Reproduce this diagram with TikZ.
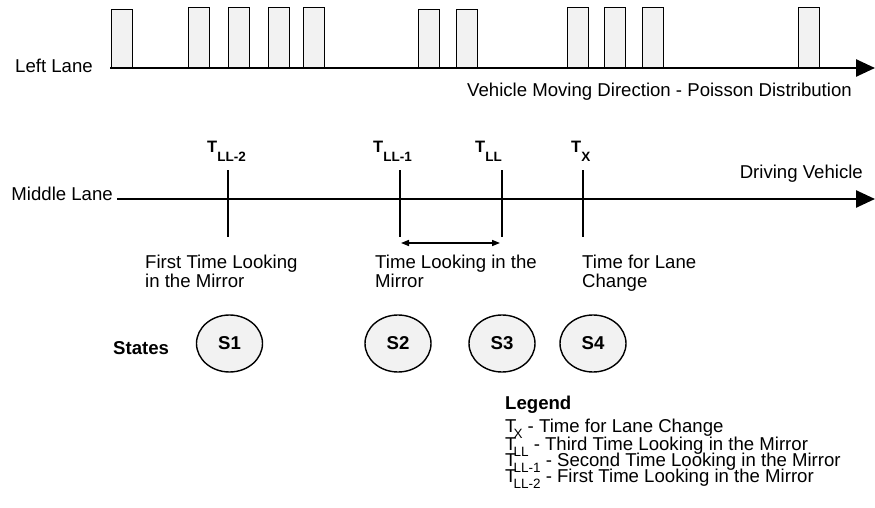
\documentclass[tikz,border=0pt]{standalone}
\usepackage{fontspec}
\setmainfont{Liberation Sans}
\usetikzlibrary{arrows.meta,shapes.geometric}
\newcommand{\tbig}[1]{{\fontsize{16.5}{16.5}\selectfont\bfseries T}\raisebox{-9pt}{\fontsize{13.5}{13.5}\selectfont\bfseries #1}}
\newcommand{\tleg}[1]{T\kern-3pt\raisebox{-6pt}{\fontsize{13.5}{13.5}\selectfont #1}}
\tikzset{
  lane/.style={
    line width=2.5pt,
    -{Triangle[length=19pt,width=17pt]},
  },
  car box/.style={
    fill=black!5,
    draw,
    line width=1.4pt,
    minimum width=21pt,
    inner sep=0pt,
    anchor=south west,
  },
  tick mark/.style={line width=2pt},
  gap arrow/.style={
    line width=1.5pt,
    {Triangle[length=8pt,width=6pt]}-{Triangle[length=8pt,width=6pt]},
  },
  state node/.style={
    ellipse,
    fill=black!5,
    draw,
    line width=1.4pt,
    minimum width=66pt,
    minimum height=57pt,
    inner sep=0pt,
    font=\fontsize{18.6}{18.6}\selectfont\bfseries,
  },
  lane text/.style={
    inner sep=0pt,
    font=\fontsize{18.6}{19}\selectfont,
  },
}

\begin{document}
\begin{tikzpicture}[x=1pt,y=-1pt]
        \useasboundingbox (0,0) rectangle (875,508);

        \foreach \x/\h [count=\i] in {111/58,188/60,228/60,268/60,303/60,418/58,456/58,567/60,604/60,642/60,798/60}
            \node [car box, minimum height=\h pt] (car\i) at (\x,68) {};

        \coordinate (left start) at (110,68);
        \coordinate (left end) at (875,68);
        \draw [lane] (left start) -- (left end);
        \node [lane text, anchor=base east] (left lane) at (93,73) {Left Lane};
        \node [lane text, anchor=base west] (direction) at (467,97) {Vehicle Moving Direction - Poisson Distribution};

        \coordinate (mid start) at (117,199);
        \coordinate (mid end) at (875,199);
        \draw [lane] (mid start) -- (mid end);
        \node [lane text, anchor=base east] (middle lane) at (113,200) {Middle Lane};
        \node [lane text, anchor=base east] (driving) at (863,178) {Driving Vehicle};

        \foreach \n/\x in {tll2/228,tll1/400,tll/502,tx/583} {
            \coordinate (\n top) at (\x,170);
            \coordinate (\n bot) at (\x,237);
            \draw [tick mark] (\n top) -- (\n bot);
        }
        \node [lane text, anchor=base west] (tll2 lab) at (207,153) {\tbig{LL-2}};
        \node [lane text, anchor=base west] (tll1 lab) at (373,153) {\tbig{LL-1}};
        \node [lane text, anchor=base west] (tll lab) at (475,153) {\tbig{LL}};
        \node [lane text, anchor=base west] (tx lab) at (571,153) {\tbig{X}};

        \coordinate (gap left) at (401,243);
        \coordinate (gap right) at (500,243);
        \draw [gap arrow] (gap left) -- (gap right);

        \node [lane text, anchor=north west, align=left] (first look) at (145,255) {First Time Looking\\in the Mirror};
        \node [lane text, anchor=north west, align=left] (look time) at (375,255) {Time Looking in the\\Mirror};
        \node [lane text, anchor=north west, align=left] (change time) at (582,255) {Time for Lane\\Change};

        \node [lane text, anchor=base west, font=\fontsize{18.6}{18.6}\selectfont\bfseries] (states) at (113,354) {States};
        \node [state node] (s1) at (229.5,343.5) {S1};
        \node [state node] (s2) at (398,343.5) {S2};
        \node [state node] (s3) at (502,343.5) {S3};
        \node [state node] (s4) at (593,343.5) {S4};

        \node [lane text, anchor=base west, font=\fontsize{18.6}{18.6}\selectfont\bfseries] (legend) at (505,409) {Legend};
        \node [lane text, anchor=base west] (leg tx) at (505,432) {\tleg{X} - Time for Lane Change};
        \node [lane text, anchor=base west] (leg tll) at (505,450) {\tleg{LL} - Third Time Looking in the Mirror};
        \node [lane text, anchor=base west] (leg tll1) at (505,466) {\tleg{LL-1} - Second Time Looking in the Mirror};
        \node [lane text, anchor=base west] (leg tll2) at (505,482) {\tleg{LL-2} - First Time Looking in the Mirror};
    \end{tikzpicture}
\end{document}
